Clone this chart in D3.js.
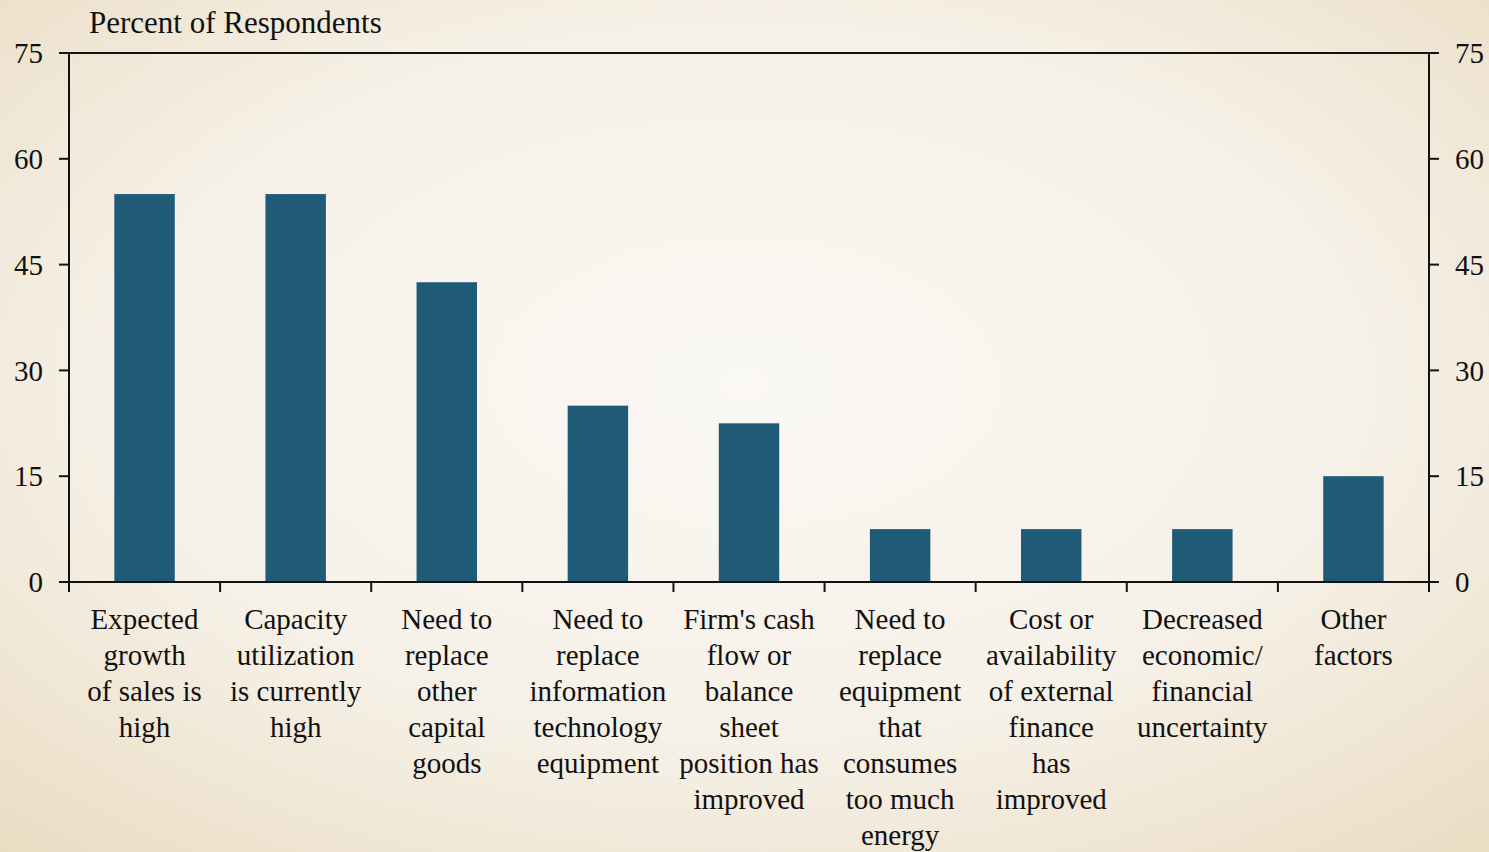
<!DOCTYPE html>
<html>
<head>
<meta charset="utf-8">
<script src="https://cdn.jsdelivr.net/npm/d3@7"></script>
<style>
  html, body { margin: 0; padding: 0; }
  body { width: 1489px; height: 852px; overflow: hidden; }
  svg { display: block; }
  text { font-family: "Liberation Serif", "Times New Roman", serif; fill: #111; }
</style>
</head>
<body>
<svg id="chart" width="1489" height="852"></svg>
<script>
// Reasons for increasing capital spending
const categories = [
  ["Expected", "growth", "of sales is", "high"],
  ["Capacity", "utilization", "is currently", "high"],
  ["Need to", "replace", "other", "capital", "goods"],
  ["Need to", "replace", "information", "technology", "equipment"],
  ["Firm's cash", "flow or", "balance", "sheet", "position has", "improved"],
  ["Need to", "replace", "equipment", "that", "consumes", "too much", "energy"],
  ["Cost or", "availability", "of external", "finance", "has", "improved"],
  ["Decreased", "economic/", "financial", "uncertainty"],
  ["Other", "factors"]
];
const values = [55, 55, 42.5, 25, 22.5, 7.5, 7.5, 7.5, 15];
const yTicks = [0, 15, 30, 45, 60, 75];
const yTitle = "Percent of Respondents";

const W = 1489, H = 852;
const margin = { left: 69, right: 60, top: 53, bottom: 270 };
const svg = d3.select("#chart");

// Soft cream background, lighter toward the middle
const defs = svg.append("defs");
const grad = defs.append("radialGradient")
  .attr("id", "bg").attr("cx", "50%").attr("cy", "45%").attr("r", "75%");
grad.append("stop").attr("offset", "0%").attr("stop-color", "#faf8f4");
grad.append("stop").attr("offset", "55%").attr("stop-color", "#f6f1e8");
grad.append("stop").attr("offset", "100%").attr("stop-color", "#eadcc2");
svg.append("rect").attr("width", W).attr("height", H).attr("fill", "url(#bg)");

const x0 = margin.left, x1 = W - margin.right;
const y0 = H - margin.bottom, y1 = margin.top;

const x = d3.scaleBand().domain(d3.range(categories.length)).range([x0, x1])
  .paddingInner(0.6).paddingOuter(0.3);
const xb = d3.scaleBand().domain(d3.range(categories.length)).range([x0, x1]);
const y = d3.scaleLinear().domain([0, 75]).range([y0, y1]);

// Bars
svg.append("g").selectAll("rect").data(values).join("rect")
  .attr("x", (d, i) => x(i))
  .attr("width", x.bandwidth())
  .attr("y", d => y(d))
  .attr("height", d => y(0) - y(d))
  .attr("fill", "#1f5a77");

const axisG = svg.append("g").attr("stroke", "#111").attr("stroke-width", 2).attr("fill", "none");

// Frame lines: top, bottom, left, right
axisG.append("line").attr("x1", x0 - 10).attr("x2", x1 + 10).attr("y1", y(75)).attr("y2", y(75));
axisG.append("line").attr("x1", x0 - 10).attr("x2", x1 + 10).attr("y1", y(0)).attr("y2", y(0));
axisG.append("line").attr("x1", x0).attr("x2", x0).attr("y1", y(75)).attr("y2", y(0) + 10);
axisG.append("line").attr("x1", x1).attr("x2", x1).attr("y1", y(75)).attr("y2", y(0) + 10);

// Value ticks on both sides
yTicks.forEach(t => {
  axisG.append("line").attr("x1", x0 - 10).attr("x2", x0).attr("y1", y(t)).attr("y2", y(t));
  axisG.append("line").attr("x1", x1).attr("x2", x1 + 10).attr("y1", y(t)).attr("y2", y(t));
});

// Category separator ticks below the baseline
d3.range(1, categories.length).forEach(i => {
  const xx = xb(i);
  axisG.append("line").attr("x1", xx).attr("x2", xx).attr("y1", y(0)).attr("y2", y(0) + 10);
});

// Tick labels
const fs = 29;
svg.append("g").selectAll("text").data(yTicks).join("text")
  .attr("x", x0 - 26).attr("y", d => y(d)).attr("dy", "0.35em")
  .attr("text-anchor", "end").attr("font-size", fs).text(d => d);
svg.append("g").selectAll("text").data(yTicks).join("text")
  .attr("x", x1 + 26).attr("y", d => y(d)).attr("dy", "0.35em")
  .attr("text-anchor", "start").attr("font-size", fs).text(d => d);

// Axis title
svg.append("text").attr("x", 89).attr("y", 33).attr("font-size", 31).text(yTitle);

// Category labels, one line per row
const lab = svg.append("g").selectAll("text").data(categories).join("text")
  .attr("text-anchor", "middle").attr("font-size", fs)
  .attr("x", (d, i) => xb(i) + xb.bandwidth() / 2)
  .attr("y", y(0) + 47);
lab.selectAll("tspan").data(d => d).join("tspan")
  .attr("x", function() { return this.parentNode.getAttribute("x"); })
  .attr("dy", (d, i) => i === 0 ? 0 : 36)
  .text(d => d);
</script>
</body>
</html>
